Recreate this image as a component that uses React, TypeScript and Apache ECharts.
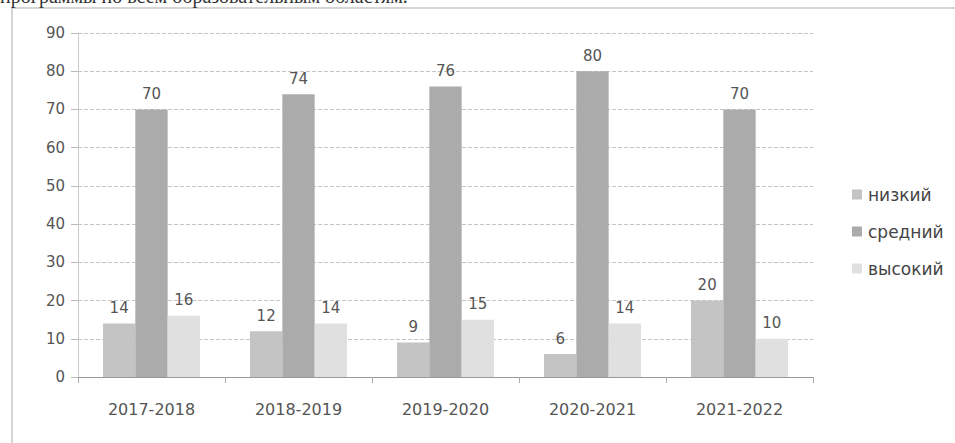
import React, { useEffect, useRef } from "react";
import * as echarts from "echarts";

const categories = ["2017-2018", "2018-2019", "2019-2020", "2020-2021", "2021-2022"];
const lowValues = [14, 12, 9, 6, 20];
const midValues = [70, 74, 76, 80, 70];
const highValues = [16, 14, 15, 14, 10];
const seriesNames = ["низкий", "средний", "высокий"];
const yTicks = { min: 0, max: 90, interval: 10 };
const captionText = "программы по всем образовательным областям.";

export default function App() {
  const ref = useRef<HTMLDivElement>(null);
  useEffect(() => {
    if (!ref.current) return;
    const chart = echarts.init(ref.current, null, { renderer: "svg" });
    const label = {
      show: true,
      position: "top",
      distance: 8,
      color: "#555",
      fontSize: 15,
      fontFamily: "DejaVu Sans",
    };
    chart.setOption({
      animation: false,
      backgroundColor: "#fff",
      textStyle: { fontFamily: "DejaVu Sans" },
      graphic: [
        {
          type: "rect",
          shape: { x: 12, y: 8, width: 960, height: 460 },
          style: { fill: "none", stroke: "#c8c8c8", lineWidth: 1.5 },
          silent: true,
        },
        {
          type: "text",
          left: 0,
          top: -14,
          style: {
            text: captionText,
            fontSize: 20,
            fontFamily: "Liberation Serif",
            fill: "#333",
          },
          silent: true,
        },
      ],
      legend: {
        orient: "vertical",
        left: 847,
        top: 181,
        itemWidth: 10,
        itemHeight: 10,
        itemGap: 20,
        icon: "rect",
        textStyle: {
          color: "#444",
          fontSize: 17,
          fontFamily: "DejaVu Sans",
          padding: [0, 0, 0, 1],
        },
        data: seriesNames,
      },
      grid: { left: 78, right: 142, top: 33, bottom: 66 },
      xAxis: {
        type: "category",
        data: categories,
        axisLine: { lineStyle: { color: "#999" } },
        axisTick: { show: true, length: 6, lineStyle: { color: "#aaa" } },
        axisLabel: { color: "#555", fontSize: 16, margin: 24 },
      },
      yAxis: {
        type: "value",
        min: yTicks.min,
        max: yTicks.max,
        interval: yTicks.interval,
        axisLine: { show: true, lineStyle: { color: "#ccc" } },
        axisTick: { show: true, length: 7, lineStyle: { color: "#bbb" } },
        axisLabel: { color: "#555", fontSize: 15, margin: 13 },
        splitLine: { lineStyle: { color: "#c4c4c4", type: "dashed" } },
      },
      series: [
        {
          name: seriesNames[0],
          type: "bar",
          data: lowValues,
          barGap: "0%",
          barCategoryGap: "34%",
          itemStyle: { color: "#c4c4c4" },
          label,
        },
        {
          name: seriesNames[1],
          type: "bar",
          data: midValues,
          itemStyle: { color: "#ababab" },
          label,
        },
        {
          name: seriesNames[2],
          type: "bar",
          data: highValues,
          itemStyle: { color: "#e0e0e0" },
          label,
        },
      ],
    });
    return () => chart.dispose();
  }, []);
  return (
    <div
      ref={ref}
      style={{ position: "fixed", left: 0, top: 0, width: 955, height: 443 }}
    />
  );
}
